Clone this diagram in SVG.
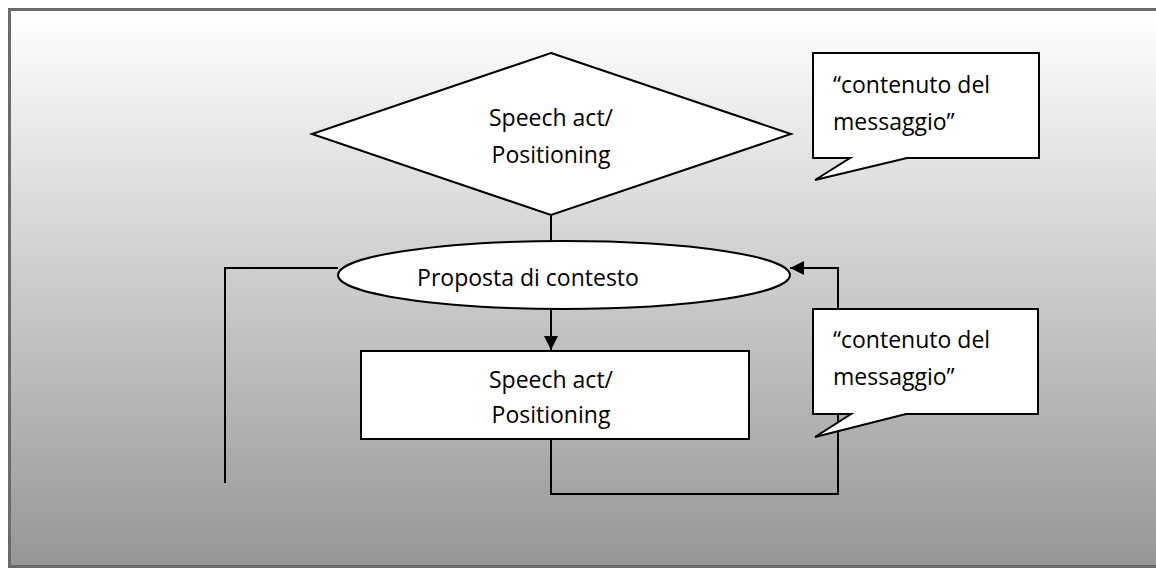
<svg xmlns="http://www.w3.org/2000/svg" width="1156" height="568" viewBox="0 0 1156 568">
  <defs>
    <linearGradient id="bg" x1="0" y1="0" x2="0" y2="1">
      <stop offset="0" stop-color="#ffffff"/>
      <stop offset="1" stop-color="#969696"/>
    </linearGradient>
    <marker id="arrow" viewBox="0 0 14 14" refX="14" refY="7" markerWidth="14" markerHeight="14" markerUnits="userSpaceOnUse" orient="auto">
      <path d="M0,0 L14,7 L0,14 Z" fill="#000"/>
    </marker>
  </defs>
  <style>
    .shape { fill: #ffffff; stroke: #000000; stroke-width: 2; }
    .wire { fill: none; stroke: #000000; stroke-width: 2; }
    .label { font-family: "Open Sans", "Liberation Sans", sans-serif; font-size: 23px; fill: #000000; }
    .mid { text-anchor: middle; }
  </style>

  <!-- panel background -->
  <rect x="9.5" y="9.5" width="1160" height="557" fill="url(#bg)" stroke="#6b6b6b" stroke-width="3"/>

  <!-- connectors -->
  <g id="connectors">
    <path class="wire" d="M551,215 L551,242"/>
    <path class="wire" d="M338,268 L225,268 L225,483"/>
    <path class="wire" d="M551,309 L551,350" marker-end="url(#arrow)"/>
    <path class="wire" d="M551,439 L551,494 L838,494 L838,268 L790,268" marker-end="url(#arrow)"/>
  </g>

  <!-- decision -->
  <g id="decision">
    <polygon class="shape" points="551,53 791,134 551,215 312,134"/>
    <text class="label mid" x="551" y="126">Speech act/</text>
    <text class="label mid" x="551" y="163">Positioning</text>
  </g>

  <!-- context proposal -->
  <g id="context">
    <ellipse class="shape" cx="564" cy="275" rx="226" ry="34"/>
    <text class="label mid" x="528" y="286">Proposta di contesto</text>
  </g>

  <!-- process -->
  <g id="process">
    <rect class="shape" x="361" y="351" width="388" height="88"/>
    <text class="label mid" x="551" y="388">Speech act/</text>
    <text class="label mid" x="551" y="423">Positioning</text>
  </g>

  <!-- callout top -->
  <g id="callout-top">
    <path class="shape" d="M813,53 L1039,53 L1039,158 L907,158 L815,180 L850,158 L813,158 Z"/>
    <text class="label" x="833" y="93">“contenuto del</text>
    <text class="label" x="833" y="130">messaggio”</text>
  </g>

  <!-- callout bottom -->
  <g id="callout-bottom">
    <path class="shape" d="M813,309 L1038,309 L1038,414 L906,414 L815,437 L851,414 L813,414 Z"/>
    <text class="label" x="833" y="348">“contenuto del</text>
    <text class="label" x="833" y="385">messaggio”</text>
  </g>
</svg>
